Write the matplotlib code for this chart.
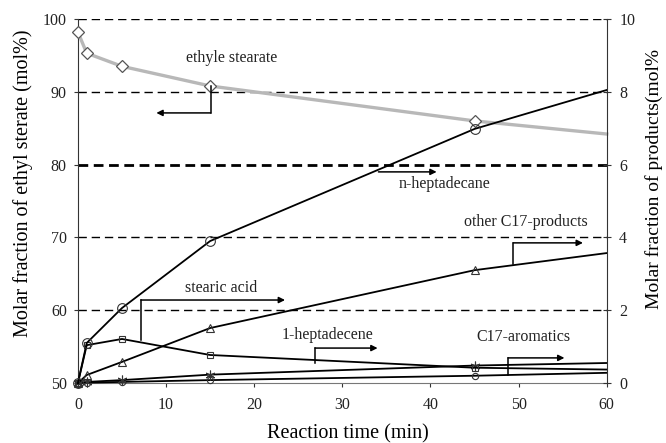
import matplotlib
matplotlib.use("Agg")
import matplotlib.pyplot as plt

plt.rcParams['font.family'] = ['Liberation Serif', 'DejaVu Serif']

# Reaction time (min) and measured compositions
time_min = [0, 1, 5, 15, 45, 60]
ethyl_stearate = [98.2, 95.3, 93.5, 90.8, 86.0, 84.2]      # mol%, left axis
n_heptadecane = [0.0, 1.10, 2.06, 3.90, 6.98, 8.05]        # mol%, right axis
stearic_acid = [0.0, 1.04, 1.21, 0.77, 0.42, 0.37]
other_c17 = [0.0, 0.22, 0.58, 1.51, 3.10, 3.57]
heptadecene = [0.0, 0.03, 0.08, 0.23, 0.48, 0.55]
aromatics = [0.0, 0.01, 0.03, 0.08, 0.20, 0.28]

x_ticks = [0, 10, 20, 30, 40, 50, 60]
left_ticks = [50, 60, 70, 80, 90, 100]
right_ticks = [0, 2, 4, 6, 8, 10]

fig = plt.figure(figsize=(6.66, 4.43), dpi=100)
ax = fig.add_axes([0.117, 0.1354, 0.794, 0.8217])
ax2 = ax.twinx()

# horizontal guide lines
for v in [60, 70, 90, 100]:
    ax.axhline(v, color='black', lw=1.0, ls=(0, (6, 3.5)), zorder=0)
ax.axhline(80, color='black', lw=2.0, ls=(0, (3.5, 2)), zorder=0)

# reactant on the left axis
ax.plot(time_min, ethyl_stearate, color='#b8b8b8', lw=2.4,
        marker='D', markersize=6, markerfacecolor='white',
        markeredgecolor='#555555', markeredgewidth=0.9,
        markevery=slice(0, 5), zorder=3, clip_on=False)

# products on the right axis
line_kw = dict(color='black', lw=1.3, markerfacecolor='none',
               markeredgecolor='#333333', markeredgewidth=0.8,
               markevery=slice(0, 5), clip_on=False)
ax2.plot(time_min, aromatics, marker='o', markersize=4.5, **line_kw)
ax2.plot(time_min, heptadecene, marker=(6, 2, 0), markersize=7, **line_kw)
ax2.plot(time_min, stearic_acid, marker='s', markersize=4.5, **line_kw)
ax2.plot(time_min, other_c17, marker='^', markersize=5.5, **line_kw)
ax2.plot(time_min, n_heptadecane, marker='o', markersize=7, **line_kw)

ax.set_xlim(0, 60)
ax.set_ylim(50, 100)
ax2.set_ylim(0, 10)
ax.set_xticks(x_ticks)
ax.set_yticks(left_ticks)
ax2.set_yticks(right_ticks)

ax.spines['top'].set_visible(False)
ax2.spines['top'].set_visible(False)
ax2.spines['left'].set_visible(False)
ax2.spines['bottom'].set_visible(False)
ax.spines['right'].set_visible(False)
ax.spines['left'].set_color('#333333')
ax.spines['bottom'].set_color('#777777')
ax2.spines['right'].set_color('#333333')

ax.tick_params(axis='x', direction='out', length=3, width=0.8, pad=7,
               labelsize=11.5, colors='#333333')
ax.tick_params(axis='y', direction='out', length=3, width=0.8, pad=5,
               labelsize=11.5, colors='#333333')
ax2.tick_params(axis='y', direction='inout', length=6, width=0.8, pad=6,
                labelsize=11.5, colors='#333333')
for lab in ax.get_xticklabels() + ax.get_yticklabels() + ax2.get_yticklabels():
    lab.set_color('#222222')

ax.set_xlabel('Reaction time (min)', fontsize=14.5)
ax.xaxis.set_label_coords(0.51, -0.112)
ax.set_ylabel('Molar fraction of ethyl sterate (mol%)', fontsize=14.5)
ax.yaxis.set_label_coords(-0.085, 0.55)
ax2.set_ylabel('Molar fraction of products(mol%', fontsize=14,
               rotation=90)
ax2.yaxis.set_label_coords(1.072, 0.56)

# series labels with leader arrows: (axis, text, text xy, stem start, corner, arrow tip)
ann_kw = dict(fontsize=11.5, color='#222222', ha='center', va='center')
arrow_kw = dict(arrowstyle='-|>', color='black', lw=1.1,
                mutation_scale=9, shrinkA=0, shrinkB=0)

labels = [
    (ax, 'ethyle stearate', (17.4, 94.6), (15.05, 90.8), (15.05, 87.1), (8.9, 87.1)),
    (ax2, 'n-heptadecane', (41.6, 5.47), None, (34.1, 5.8), (40.7, 5.8)),
    (ax2, 'other C17-products', (50.8, 4.42), (49.4, 3.28), (49.4, 3.85), (57.3, 3.85)),
    (ax2, 'stearic acid', (16.2, 2.62), (7.14, 1.18), (7.14, 2.28), (23.5, 2.28)),
    (ax2, '1-heptadecene', (28.3, 1.32), (26.9, 0.55), (26.9, 0.96), (34.0, 0.96)),
    (ax2, 'C17-aromatics', (50.6, 1.26), (48.8, 0.22), (48.8, 0.69), (55.2, 0.69)),
]
for a, text, txy, stem, corner, tip in labels:
    a.text(txy[0], txy[1], text, **ann_kw)
    if stem is not None:
        a.plot([stem[0], corner[0]], [stem[1], corner[1]],
               color='black', lw=1.1, zorder=4)
    a.annotate('', xy=tip, xytext=corner, arrowprops=arrow_kw, zorder=4)

fig.savefig('out.png', dpi=100)
